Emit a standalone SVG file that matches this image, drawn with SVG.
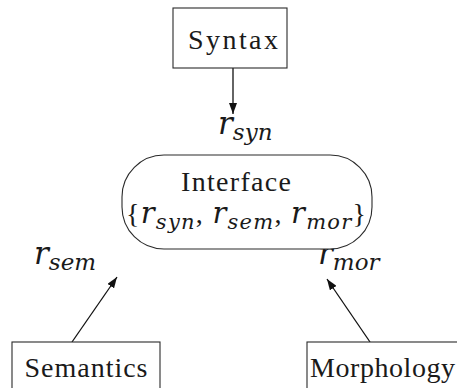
<svg xmlns="http://www.w3.org/2000/svg" width="457" height="388" viewBox="0 0 457 388">
  <style>
    .box { fill: #ffffff; stroke: #2a2a2a; stroke-width: 1.1; }
    .t { font-family: "Liberation Serif", "Times New Roman", serif; font-size: 28px; fill: #1a1a1a; }
    .m { font-family: "DejaVu Serif", "Liberation Serif", serif; font-size: 29px; font-style: italic; }
    .s { font-family: "DejaVu Serif", "Liberation Serif", serif; font-size: 21px; font-style: italic; }
    .lab { font-size: 31px; }
    .lab .s { font-size: 23px; }
    .edge { stroke: #111111; stroke-width: 1.3; fill: none; marker-end: url(#ah); }
  </style>
  <defs>
    <marker id="ah" viewBox="0 0 11 8" refX="11" refY="4" markerWidth="11" markerHeight="8" markerUnits="userSpaceOnUse" orient="auto">
      <path d="M0,0 L11,4 L0,8 Z" fill="#111111"/>
    </marker>
  </defs>

  <!-- connectors -->
  <g id="connectors">
    <line class="edge" x1="233" y1="68" x2="233" y2="114"/>
    <line class="edge" x1="72" y1="342" x2="117" y2="277"/>
    <line class="edge" x1="370" y1="342" x2="327" y2="279"/>
  </g>

  <!-- relation labels -->
  <g id="label-syn">
    <text class="t m lab" x="218" y="134">r<tspan class="s" dy="6">syn</tspan></text>
  </g>
  <g id="label-sem">
    <text class="t m lab" x="34" y="264">r<tspan class="s" dy="6">sem</tspan></text>
  </g>
  <g id="label-mor">
    <text class="t m lab" x="318" y="264">r<tspan class="s" dy="6">mor</tspan></text>
  </g>

  <!-- nodes -->
  <g id="syntax">
    <rect class="box" x="173" y="8" width="114" height="60"/>
    <text class="t" x="233" y="49" text-anchor="middle" textLength="90">Syntax</text>
  </g>

  <g id="interface">
    <rect class="box" x="122" y="155" width="250" height="94" rx="42" ry="42"/>
    <text class="t" x="236" y="191" text-anchor="middle" textLength="110">Interface</text>
    <text class="t" x="246" y="223" text-anchor="middle" textLength="240">{<tspan class="m">r</tspan><tspan class="s" dy="6">syn</tspan><tspan dy="-6">, </tspan><tspan class="m">r</tspan><tspan class="s" dy="6">sem</tspan><tspan dy="-6">, </tspan><tspan class="m">r</tspan><tspan class="s" dy="6">mor</tspan><tspan dy="-6">}</tspan></text>
  </g>

  <g id="semantics">
    <rect class="box" x="12" y="342" width="148" height="70"/>
    <text class="t" x="86" y="377" text-anchor="middle" textLength="123">Semantics</text>
  </g>

  <g id="morphology">
    <rect class="box" x="307" y="342" width="170" height="70"/>
    <text class="t" x="310" y="377" textLength="145">Morphology</text>
  </g>
</svg>
